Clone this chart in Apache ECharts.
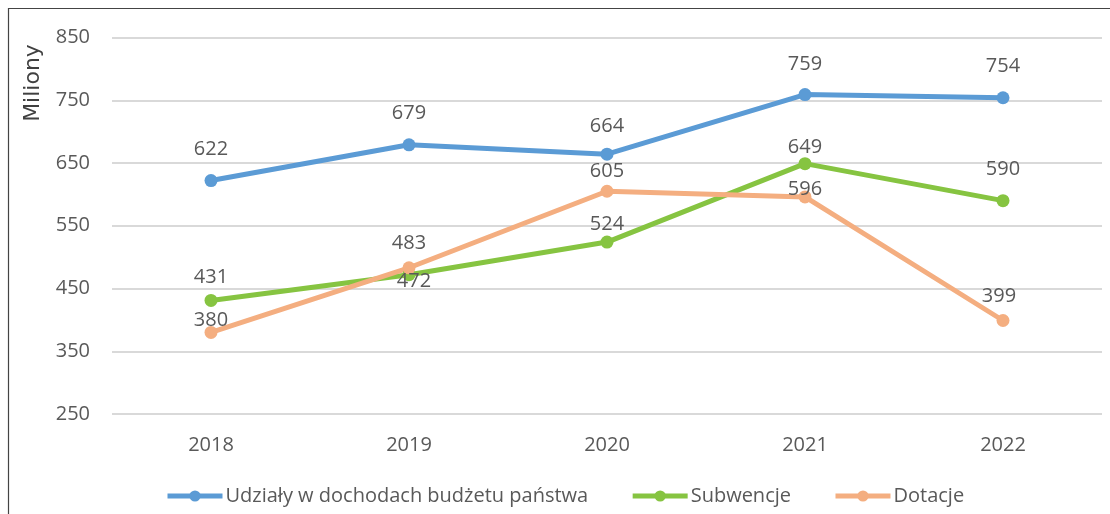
<!DOCTYPE html>
<html>
<head>
<meta charset="utf-8">
<script src="https://cdn.jsdelivr.net/npm/echarts@6/dist/echarts.min.js"></script>
<style>
  html, body { margin: 0; padding: 0; background: #fff; }
  #chart { width: 1110px; height: 514px; }
</style>
</head>
<body>
<div id="chart"></div>
<script>
// data
var years = ['2018', '2019', '2020', '2021', '2022'];
var udzialy = [622, 679, 664, 759, 754];
var subwencje = [431, 472, 524, 649, 590];
var dotacje = [380, 483, 605, 596, 399];
var seriesNames = ['Udziały w dochodach budżetu państwa', 'Subwencje', 'Dotacje'];

// label shifts (px, relative to the point) so they sit like the original
var udzialyShift = [[0, -31], [0, -32], [0, -28], [0, -30], [0, -31]];
var subwencjeShift = [[0, -23], [5, 7], [0, -18], [0, -16], [0, -31]];
var dotacjeShift = [[0, -12], [0, -24], [0, -20], [0, -8], [-4, -24]];

var font = '"Open Sans", "Noto Sans", sans-serif';
var textColor = '#595959';

function withLabels(values, shifts) {
  return values.map(function (v, i) {
    return { value: v, label: { offset: shifts[i] } };
  });
}

function lineSeries(name, values, shifts, color) {
  return {
    name: name,
    type: 'line',
    data: withLabels(values, shifts),
    symbol: 'circle',
    symbolSize: 13,
    lineStyle: { width: 5, color: color },
    itemStyle: { color: color },
    label: {
      show: true,
      position: 'inside',
      color: textColor,
      fontFamily: font,
      fontSize: 20
    },
    emphasis: { disabled: true },
    animation: false
  };
}

var myChart = echarts.init(document.getElementById('chart'));
myChart.setOption({
  backgroundColor: '#fff',
  grid: { left: 112, right: 8, top: 37.5, height: 376.5, containLabel: false },
  legend: {
    left: 160,
    top: 481,
    itemWidth: 55,
    itemHeight: 14,
    itemGap: 42,
    lineStyle: { width: 5 },
    textStyle: { color: textColor, fontFamily: font, fontSize: 20, padding: [0, 0, 0, -2] },
    data: seriesNames
  },
  xAxis: {
    type: 'category',
    data: years,
    axisLine: { show: false },
    axisTick: { show: false },
    axisLabel: { color: textColor, fontFamily: font, fontSize: 20, margin: 21 }
  },
  yAxis: {
    type: 'value',
    min: 250,
    max: 850,
    interval: 100,
    axisLine: { show: false },
    axisTick: { show: false },
    axisLabel: { color: textColor, fontFamily: font, fontSize: 20, margin: 22 },
    splitLine: { lineStyle: { color: '#d9d9d9', width: 2 } }
  },
  graphic: [
    {
      type: 'polyline',
      shape: { points: [[8.5, 514], [8.5, 8.5], [1110, 8.5]] },
      style: { stroke: '#444', lineWidth: 1.2, fill: null }
    },
    {
      type: 'text',
      x: 33,
      y: 83,
      rotation: Math.PI / 2,
      style: {
        text: 'Miliony',
        fill: '#404040',
        font: '22px "DejaVu Sans", sans-serif',
        align: 'center',
        verticalAlign: 'middle'
      }
    }
  ],
  series: [
    lineSeries(seriesNames[0], udzialy, udzialyShift, '#5B9BD5'),
    lineSeries(seriesNames[1], subwencje, subwencjeShift, '#86C441'),
    lineSeries(seriesNames[2], dotacje, dotacjeShift, '#F4AE80')
  ]
});
</script>
</body>
</html>
